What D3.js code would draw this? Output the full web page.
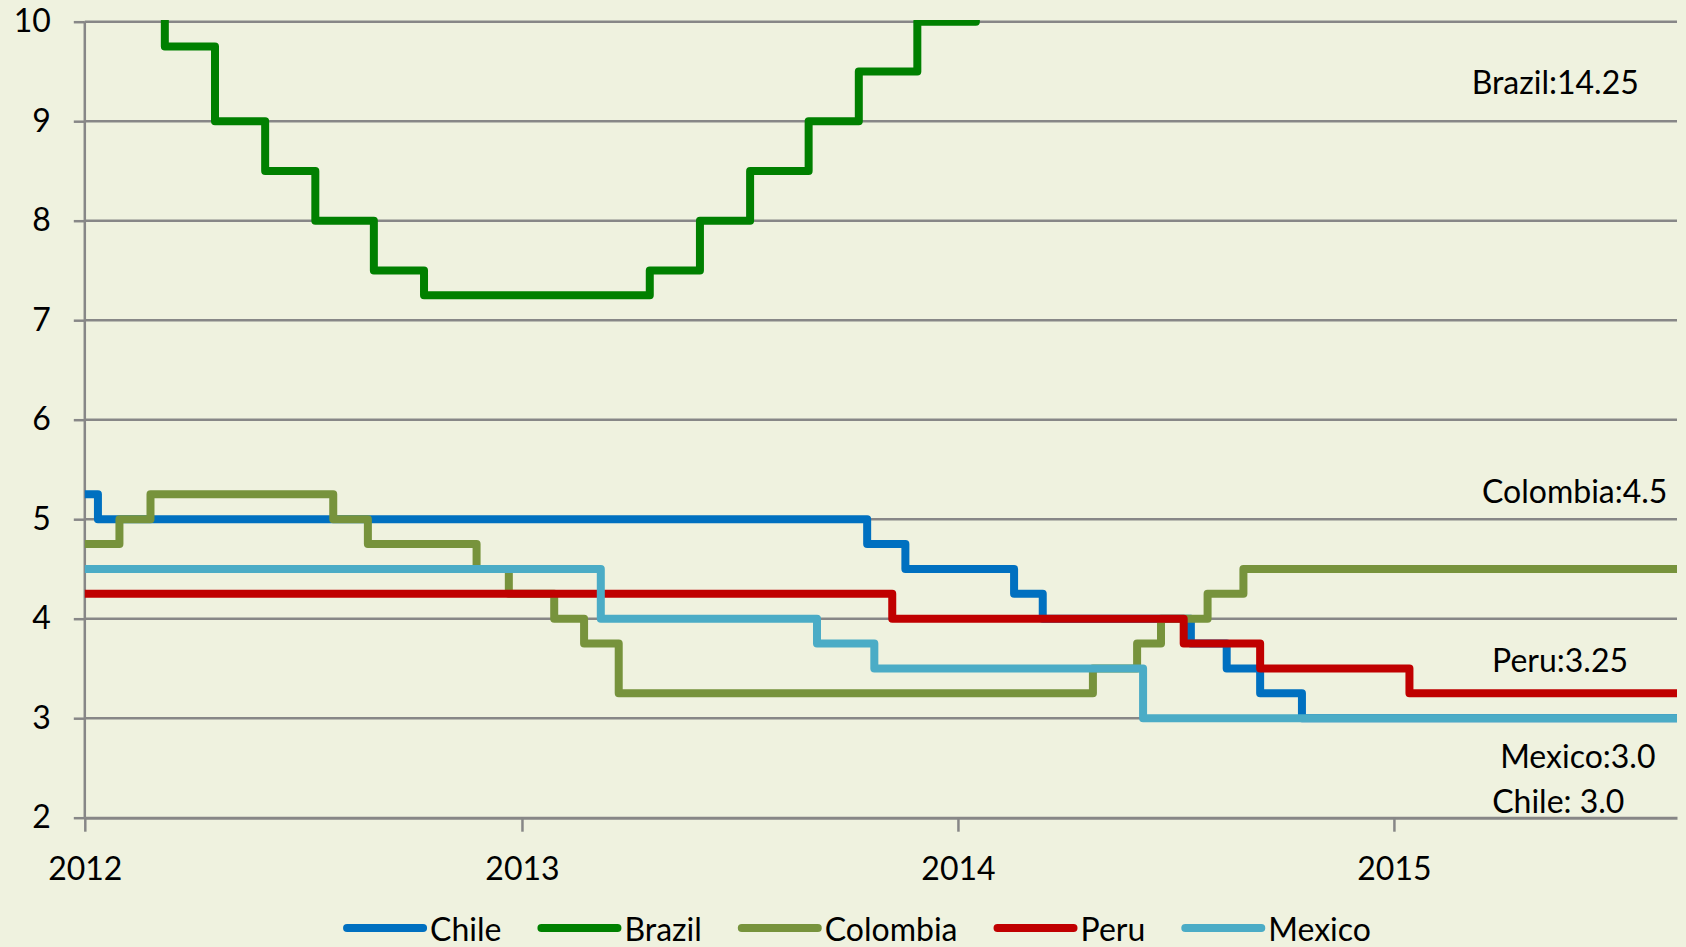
<!DOCTYPE html>
<html lang="en">
<head>
<meta charset="UTF-8">
<title>Policy rates: Chile, Brazil, Colombia, Peru, Mexico</title>
<style>
    body {
        margin: 0;
        padding: 0;
        background-color: #EFF2DF;
    }
    svg {
        display: block;
        font-family: Lato, "Open Sans", sans-serif;
    }
    .grid line {
        stroke: #878787;
        stroke-width: 2.5px;
    }
    .axis path, .axis line {
        stroke: #878787;
        stroke-width: 2.5px;
    }
    .axis text {
        font-family: Lato, "Open Sans", sans-serif;
        font-size: 32px;
        fill: #000;
    }
    .series {
        fill: none;
        stroke-width: 8px;
        stroke-linejoin: round;
    }
    .note, .legend text {
        font-size: 32px;
        fill: #000;
    }
</style>
</head>
<body>
<svg id="chart" width="1686" height="947"></svg>

<script src="https://d3js.org/d3.v7.min.js"></script>
<script>
    const width = 1686;
    const height = 947;

    // policy rate change points (date, rate in %)
    const countries = ["Chile", "Brazil", "Colombia", "Peru", "Mexico"];
    const colors = ["#0070C0", "#008000", "#77933C", "#C00000", "#4BACC6"];

    const chile = [
        ["2012-01-01", 5.25], ["2012-01-12", 5.0], ["2013-10-17", 4.75], ["2013-11-18", 4.5],
        ["2014-02-17", 4.25], ["2014-03-13", 4.0], ["2014-07-15", 3.75], ["2014-08-14", 3.5],
        ["2014-09-11", 3.25], ["2014-10-16", 3.0]
    ];
    const brazil = [
        ["2012-01-01", 11.0], ["2012-01-19", 10.5], ["2012-03-08", 9.75], ["2012-04-19", 9.0],
        ["2012-05-31", 8.5], ["2012-07-12", 8.0], ["2012-08-30", 7.5], ["2012-10-11", 7.25],
        ["2013-04-18", 7.5], ["2013-05-30", 8.0], ["2013-07-11", 8.5], ["2013-08-29", 9.0],
        ["2013-10-10", 9.5], ["2013-11-28", 10.0], ["2014-01-16", 10.5], ["2014-02-27", 10.75],
        ["2014-04-03", 11.0], ["2014-10-30", 11.25], ["2014-12-04", 11.75], ["2015-01-22", 12.25],
        ["2015-03-05", 12.75], ["2015-04-30", 13.25], ["2015-06-04", 13.75], ["2015-07-30", 14.25]
    ];
    const colombia = [
        ["2012-01-01", 4.75], ["2012-01-30", 5.0], ["2012-02-25", 5.25], ["2012-07-27", 5.0],
        ["2012-08-25", 4.75], ["2012-11-24", 4.5], ["2012-12-21", 4.25], ["2013-01-28", 4.0],
        ["2013-02-22", 3.75], ["2013-03-23", 3.25], ["2014-04-24", 3.5], ["2014-05-31", 3.75],
        ["2014-06-20", 4.0], ["2014-07-29", 4.25], ["2014-08-28", 4.5]
    ];
    const peru = [
        ["2012-01-01", 4.25], ["2013-11-07", 4.0], ["2014-07-09", 3.75], ["2014-09-11", 3.5],
        ["2015-01-14", 3.25]
    ];
    const mexico = [
        ["2012-01-01", 4.5], ["2013-03-08", 4.0], ["2013-09-05", 3.75], ["2013-10-23", 3.5],
        ["2014-06-05", 3.0]
    ];
    const seriesValues = [chile, brazil, colombia, peru, mexico];

    const startDate = "2012-01-01";
    const endDate = "2015-08-26";
    const yTicks = [2, 3, 4, 5, 6, 7, 8, 9, 10];
    const xTicks = ["2012-01-01", "2013-01-01", "2014-01-01", "2015-01-01"];

    // latest-value notes, anchored (right end / baseline) in data units
    const notes = [
        {text: "Brazil:14.25", date: "2015-07-25", value: 9.27},
        {text: "Colombia:4.5", date: "2015-08-18", value: 5.16},
        {text: "Peru:3.25", date: "2015-07-16", value: 3.46},
        {text: "Mexico:3.0", date: "2015-08-08", value: 2.50},
        {text: "Chile: 3.0", date: "2015-07-13", value: 2.05}
    ];

    const parse = d3.timeParse("%Y-%m-%d");
    const margin = {left: 84.8, right: 1677, top: 21.7, bottom: 817.7};

    const x = d3.scaleTime()
        .domain([parse(startDate), parse(endDate)])
        .range([margin.left, margin.right]);
    const y = d3.scaleLinear()
        .domain([2, 10])
        .range([margin.bottom, margin.top]);

    const svg = d3.select("#chart");

    svg.append("rect")
        .attr("width", width)
        .attr("height", height)
        .attr("fill", "#EFF2DF");

    // horizontal gridlines
    svg.append("g")
        .attr("class", "grid")
        .selectAll("line")
        .data(yTicks.filter(d => d > 2))
        .enter().append("line")
        .attr("x1", margin.left)
        .attr("x2", margin.right)
        .attr("y1", d => y(d))
        .attr("y2", d => y(d));

    // y axis
    const yAxis = svg.append("g")
        .attr("class", "axis")
        .attr("transform", `translate(${margin.left},0)`)
        .call(d3.axisLeft(y).tickValues(yTicks).tickSize(11).tickSizeOuter(0).tickPadding(23).tickFormat(d3.format("d")));
    yAxis.attr("font-family", null).attr("font-size", null);
    yAxis.select(".domain").remove();
    yAxis.append("line")
        .attr("x1", 0).attr("x2", 0)
        .attr("y1", margin.top)
        .attr("y2", margin.bottom);

    // x axis
    const xAxis = svg.append("g")
        .attr("class", "axis")
        .attr("transform", `translate(0,${margin.bottom})`)
        .call(d3.axisBottom(x).tickValues(xTicks.map(parse)).tickSize(14).tickSizeOuter(0).tickFormat(d3.timeFormat("%Y")));
    xAxis.attr("font-family", null).attr("font-size", null);
    xAxis.select(".domain").style("stroke-width", "3px");
    xAxis.selectAll("text").attr("y", 62).attr("dy", 0);

    // clip lines to the plot area
    svg.append("clipPath")
        .attr("id", "plot-clip")
        .append("rect")
        .attr("x", margin.left - 10)
        .attr("y", 20)
        .attr("width", margin.right - margin.left + 10)
        .attr("height", margin.bottom - 20);

    const line = d3.line()
        .curve(d3.curveStepAfter)
        .x(d => x(d.date))
        .y(d => y(d.value));

    const series = countries.map((name, i) => {
        const pts = seriesValues[i].map(d => ({date: parse(d[0]), value: d[1]}));
        pts.push({date: parse(endDate), value: pts[pts.length - 1].value});
        return {name: name, color: colors[i], points: pts};
    });

    svg.append("g")
        .attr("clip-path", "url(#plot-clip)")
        .selectAll("path")
        .data(series)
        .enter().append("path")
        .attr("class", "series")
        .attr("stroke", d => d.color)
        .attr("d", d => line(d.points));

    // notes with latest values
    svg.append("g")
        .selectAll("text")
        .data(notes)
        .enter().append("text")
        .attr("class", "note")
        .attr("text-anchor", "end")
        .attr("x", d => x(parse(d.date)))
        .attr("y", d => y(d.value))
        .text(d => d.text);

    // legend
    const legend = svg.append("g").attr("class", "legend");
    let offset = 0;
    series.forEach(s => {
        const item = legend.append("g").attr("transform", `translate(${offset},0)`);
        item.append("line")
            .attr("x1", 0).attr("x2", 76)
            .attr("y1", 0).attr("y2", 0)
            .attr("stroke", s.color)
            .attr("stroke-width", 8)
            .attr("stroke-linecap", "round");
        const t = item.append("text")
            .attr("x", 83)
            .attr("y", 13)
            .text(s.name);
        offset += 83 + t.node().getComputedTextLength() + 40;
    });
    const legendWidth = offset - 40;
    legend.attr("transform", `translate(${859 - legendWidth / 2},928)`);
</script>
</body>
</html>
